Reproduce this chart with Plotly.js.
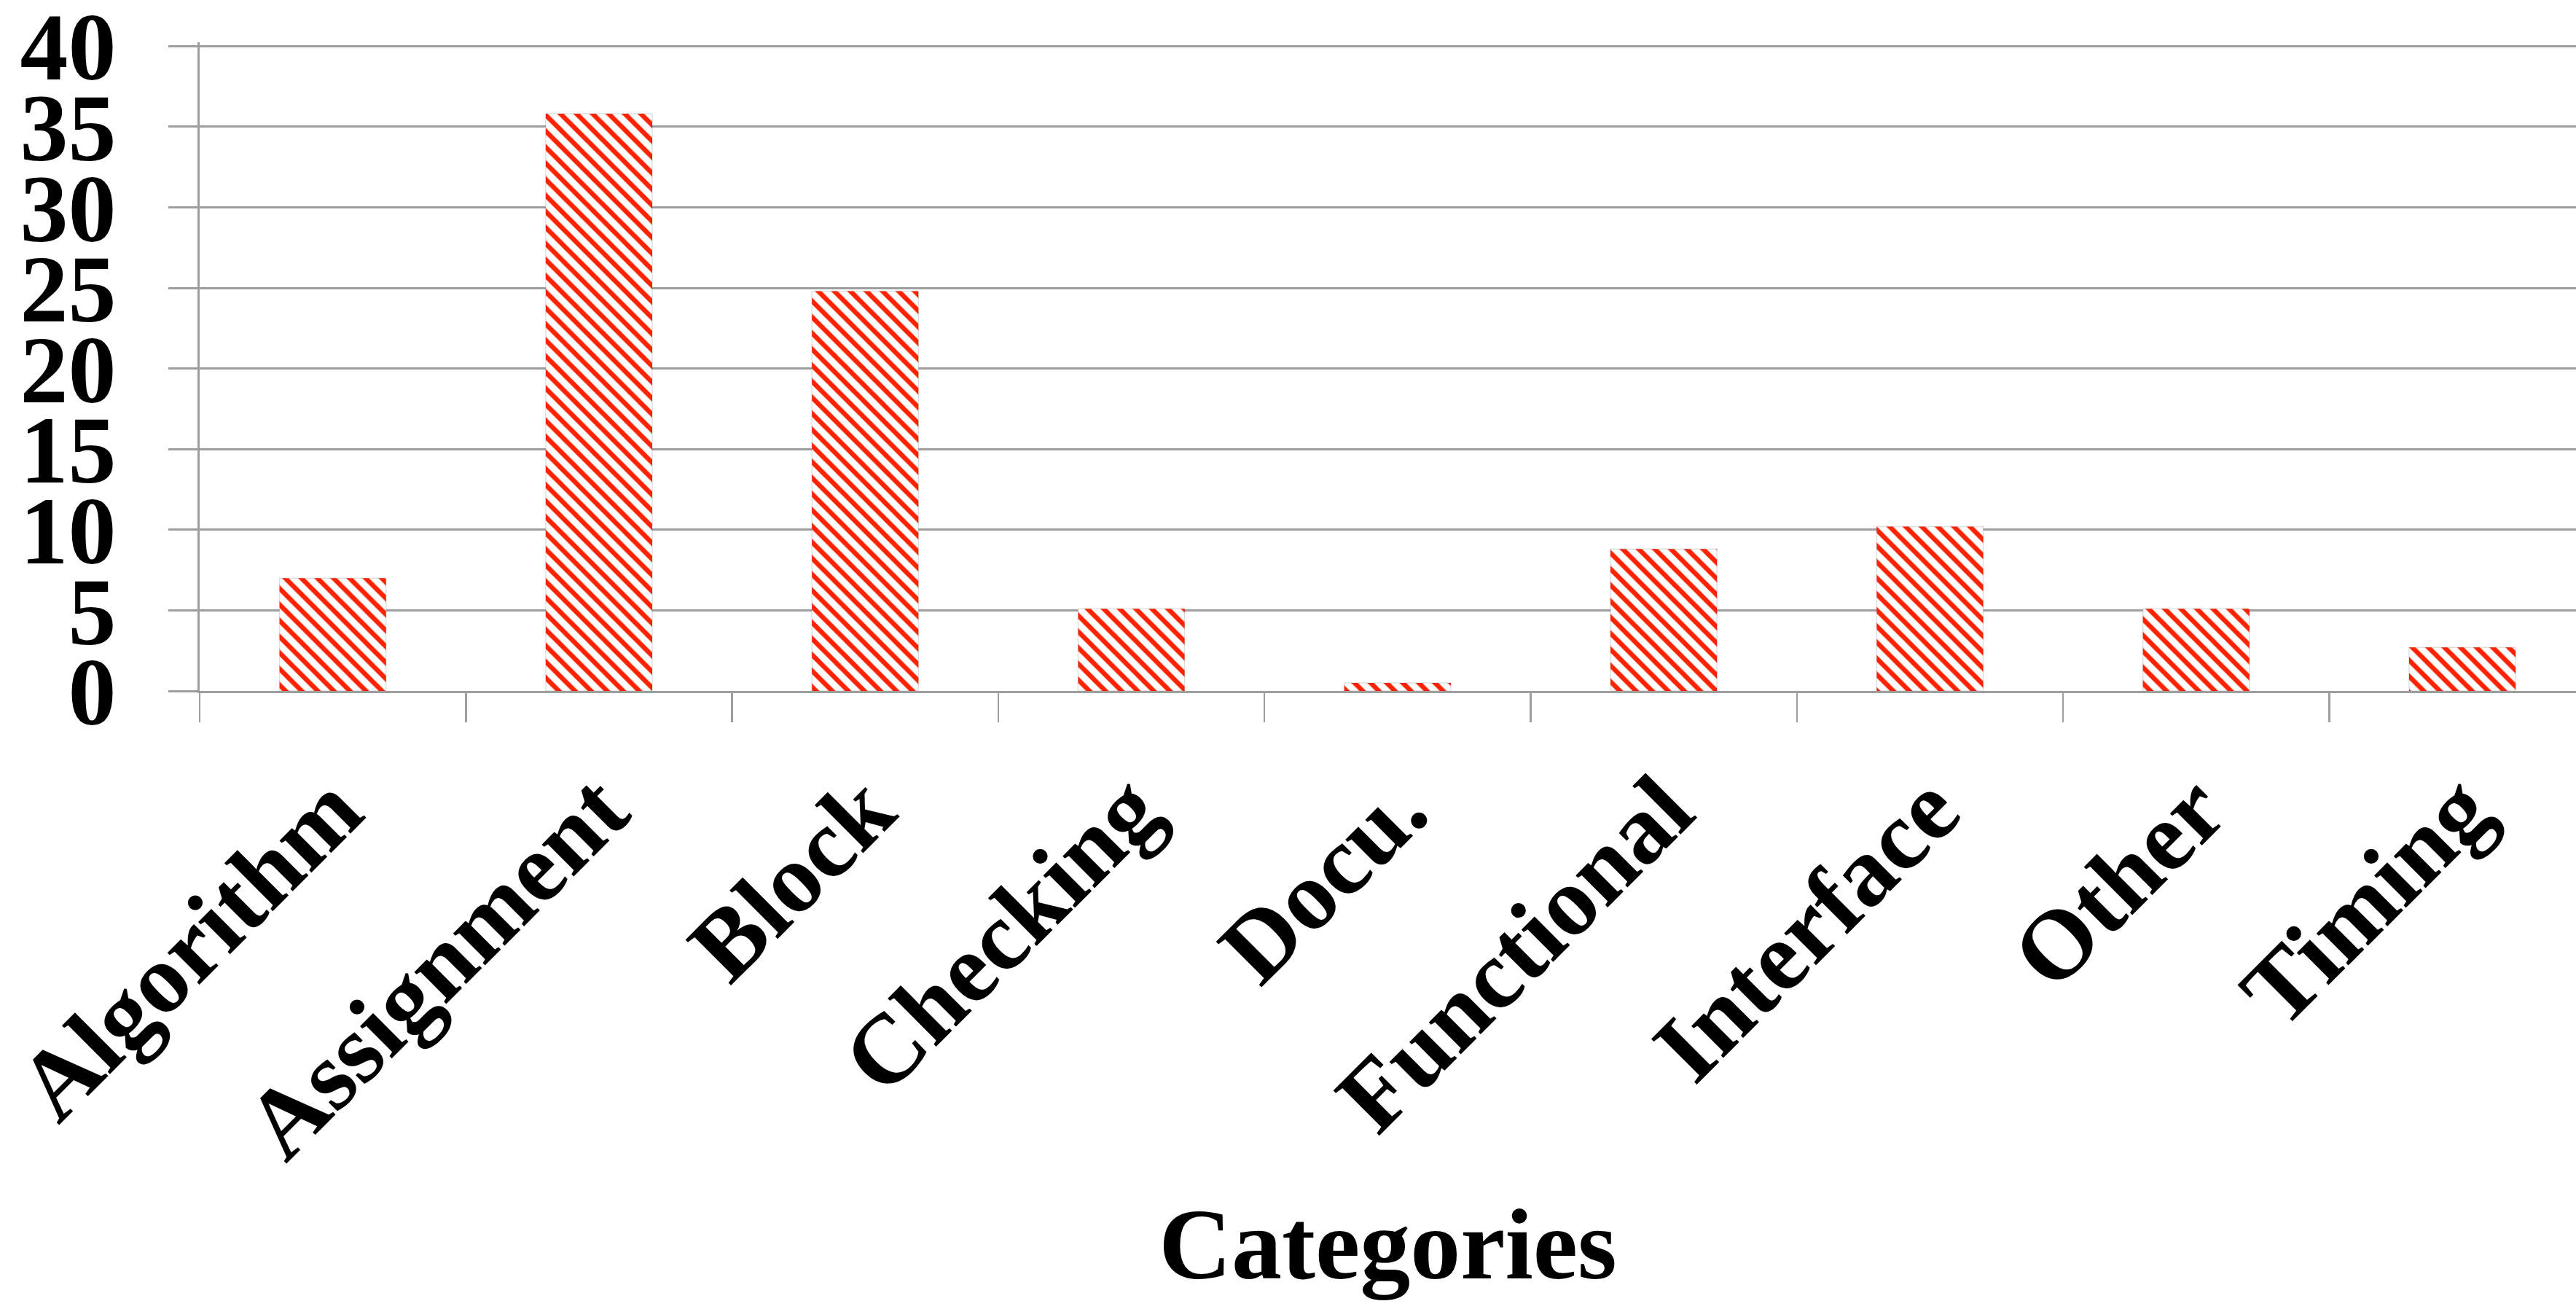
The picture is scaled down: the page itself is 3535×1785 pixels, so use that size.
<!DOCTYPE html>
<html><head><meta charset="utf-8">
<script src="https://cdn.plot.ly/plotly-3.0.1.min.js"></script>
<style>html,body{margin:0;padding:0;background:#fff;} #chart{width:3535px;height:1785px;}</style>
</head><body><div id="chart"></div>
<script>
const categories = ["Algorithm","Assignment","Block","Checking","Docu.","Functional","Interface","Other","Timing"];
const values = [7.0, 35.8, 24.8, 5.1, 0.5, 8.8, 10.2, 5.1, 2.7];
const yTickValues = [0, 5, 10, 15, 20, 25, 30, 35, 40];
const xTitle = "Categories";

const gridGray = "#9E9E9E";
const barRed = "#FF2200";
const fontFamily = "'Liberation Serif', 'Times New Roman', serif";

const trace = {
  type: "bar",
  x: categories,
  y: values,
  marker: {
    color: barRed,
    line: {color: "rgba(0,0,0,0.12)", width: 1.5},
    pattern: {shape: "\\", size: 15.6, solidity: 0.42, fillmode: "replace", fgcolor: barRed, bgcolor: "#FFFFFF"}
  },
  hoverinfo: "x+y"
};

const layout = {
  width: 3535, height: 1785,
  paper_bgcolor: "#FFFFFF", plot_bgcolor: "#FFFFFF",
  margin: {l: 274, r: 0, t: 58, b: 837, pad: 0},
  bargap: 0.6,
  showlegend: false,
  xaxis: {
    type: "category",
    range: [-0.5, 8.427],
    tickson: "boundaries",
    ticks: "outside", ticklen: 40, tickwidth: 2.5, tickcolor: gridGray,
    showline: true, linecolor: gridGray, linewidth: 3,
    showgrid: false, zeroline: false,
    tickangle: -45,
    ticklabelstandoff: 27,
    ticklabeloverflow: "allow",
    tickfont: {family: fontFamily, size: 135, color: "#000000", weight: 700},
    title: {text: xTitle, standoff: 40, font: {family: fontFamily, size: 138, color: "#000000", weight: 700}},
    automargin: false
  },
  yaxis: {
    range: [0, 40.235],
    tickmode: "array", tickvals: yTickValues, ticktext: yTickValues.map(String),
    ticks: "outside", ticklen: 40, tickwidth: 3, tickcolor: gridGray,
    showline: true, linecolor: gridGray, linewidth: 3,
    showgrid: true, gridcolor: gridGray, gridwidth: 3,
    zeroline: false,
    ticklabelstandoff: 45,
    ticklabeloverflow: "allow",
    tickfont: {family: fontFamily, size: 132, color: "#000000", weight: 700},
    automargin: false
  }
};

Plotly.newPlot("chart", [trace], layout, {displayModeBar: false, staticPlot: true});
</script>
</body></html>
